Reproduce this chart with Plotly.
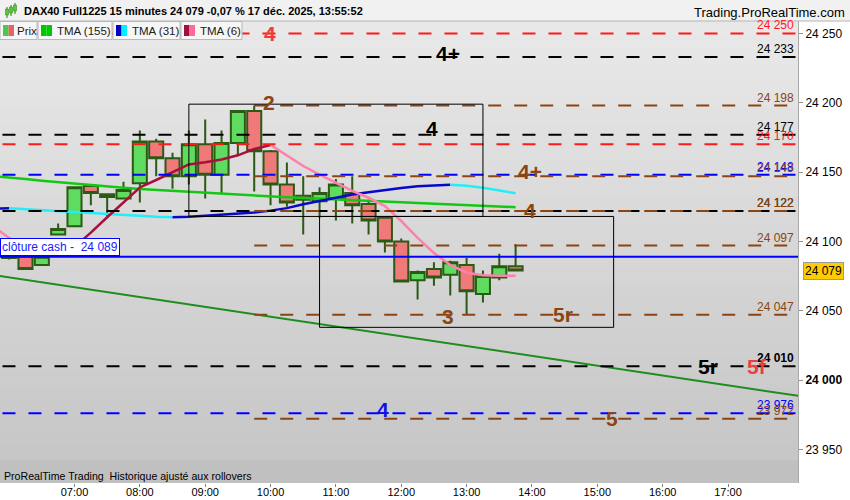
import plotly.graph_objects as go

DAY = "2025-12-17"

# ---------------- data ----------------
candle_times = ["06:00", "06:15", "06:30", "06:45", "07:00", "07:15", "07:30", "07:45",
                "08:00", "08:15", "08:30", "08:45", "09:00", "09:15", "09:30", "09:45",
                "10:00", "10:15", "10:30", "10:45", "11:00", "11:15", "11:30", "11:45",
                "12:00", "12:15", "12:30", "12:45", "13:00", "13:15", "13:30", "13:45"]
opens = [24088, 24089, 24083, 24105, 24111, 24140, 24134, 24131, 24142, 24172, 24160, 24147,
         24170, 24148, 24171, 24194, 24165, 24141, 24133, 24129, 24131, 24135, 24127, 24117,
         24100, 24072, 24080, 24076, 24083, 24062, 24074, 24082]
highs = [24095, 24090, 24089, 24113, 24139, 24140, 24134, 24143, 24180, 24174, 24164, 24180,
         24188, 24180, 24194, 24198, 24166, 24157, 24147, 24139, 24145, 24147, 24130, 24117,
         24102, 24079, 24085, 24086, 24088, 24079, 24091, 24098]
lows = [24087, 24080, 24083, 24105, 24111, 24126, 24118, 24131, 24128, 24147, 24138, 24141,
        24131, 24135, 24162, 24136, 24126, 24125, 24105, 24117, 24115, 24113, 24105, 24092,
        24071, 24058, 24068, 24061, 24047, 24056, 24072, 24079]
closes = [24094, 24080, 24089, 24109, 24139, 24135, 24132, 24137, 24172, 24160, 24147, 24170,
          24148, 24171, 24194, 24165, 24141, 24128, 24130, 24135, 24141, 24126, 24115, 24100,
          24071, 24078, 24074, 24085, 24064, 24075, 24082, 24079]

ma_times = ["05:45"] + candle_times
tma155 = [24147.0, 24146.2, 24145.0, 24143.8, 24142.7, 24141.6, 24140.7, 24139.7, 24138.7,
          24137.8, 24137.1, 24136.4, 24135.6, 24134.9, 24134.3, 24133.6, 24133.0, 24132.4,
          24131.8, 24131.3, 24130.7, 24130.2, 24129.7, 24129.2, 24128.7, 24128.2, 24127.7,
          24127.2, 24126.7, 24126.2, 24125.7, 24125.2, 24124.7]
tma31 = [24123.7, 24123.9, 24123.2, 24122.3, 24121.5, 24120.8, 24120.1, 24119.4, 24118.8,
         24118.3, 24117.8, 24117.5, 24117.7, 24118.5, 24119.2, 24120.0, 24120.8, 24122.2,
         24124.0, 24126.8, 24129.3, 24131.7, 24133.8, 24135.5, 24137.2, 24138.5, 24139.8,
         24140.5, 24140.9, 24140.1, 24138.7, 24136.9, 24134.7]
tma6 = [24111.1, 24102.5, 24095.2, 24091.6, 24092.7, 24096.0, 24106.3, 24117.4, 24128.4,
        24138.9, 24144.3, 24149.8, 24155.5, 24157.1, 24159.1, 24162.1, 24166.7, 24169.6,
        24162.0, 24154.4, 24148.1, 24142.1, 24136.4, 24131.5, 24125.5, 24114.7, 24102.5,
        24091.6, 24083.0, 24077.4, 24075.6, 24075.3, 24075.2]

cash_close = 24089
cash_label = "clôture cash -  24 089"
last_price = 24079
last_label = "24 079"

level_values = [24250, 24233, 24198, 24177, 24170, 24148, 24147, 24122, 24122, 24097,
                24047, 24010, 23976, 23972]
level_texts = ["24 250", "24 233", "24 198", "24 177", "24 170", "24 148", "24 143", "24 122",
               "24 122", "24 097", "24 047", "24 010", "23 976", "23 972"]
level_kinds = ["red", "black", "brown", "black", "red", "blue", "brown", "black", "brown",
               "brown", "brown", "black", "blue", "brown"]
level_bold = [False, False, False, False, False, False, False, False, False, False,
              False, True, False, False]
level_starts = [None, None, "09:45", None, None, None, "09:45", None, "09:45", "09:45",
                "09:45", None, None, "09:45"]

tag_texts = ["4", "4+", "2", "4", "4+", "4", "3", "5r", "5r", "5f", "4", "5"]
tag_times = ["09:59:30", "12:43:00", "09:58:40", "12:28:10", "13:58:10", "13:58:10",
             "12:43:00", "14:28:30", "16:41:40", "17:26:40", "11:43:20", "15:13:30"]
tag_prices = [24250, 24235.9, 24199.9, 24181.8, 24150.1, 24122, 24045.5, 24047, 24010,
              24010, 23978.4, 23972]
tag_kinds = ["red", "black", "brown", "black", "brown", "brown", "brown", "brown", "black",
             "red", "blue", "brown"]

box_t0 = ["08:45", "10:45"]
box_t1 = ["13:15", "15:15"]
box_lo = [24118, 24038]
box_hi = [24199, 24118]

trend_times = ["05:45", "18:15"]
trend_prices = [24075.8, 23987.3]

x_tick_labels = ["07:00", "08:00", "09:00", "10:00", "11:00", "12:00", "13:00", "14:00",
                 "15:00", "16:00", "17:00"]
y_tick_values = [23950, 24000, 24050, 24100, 24150, 24200, 24250]
y_tick_texts = ["23 950", "<b>24 000</b>", "24 050", "24 100", "24 150", "24 200", "24 250"]

title_text = "DAX40 Full1225 15 minutes 24 079 -0,07 % 17 déc. 2025, 13:55:52"
site_text = "Trading.ProRealTime.com"
footer_text = "ProRealTime Trading  Historique ajusté aux rollovers"
legend_items = ["Prix", "TMA (155)", "TMA (31)", "TMA (6)"]

# ---------------- style ----------------
COL = {"red": "#ff1a1a", "black": "#000000", "brown": "#8b4513", "blue": "#0000ff"}
TAGCOL = {"red": "#f03c3c", "black": "#000000", "brown": "#8b4513", "blue": "#1010ee"}
FONT = "Liberation Sans, Arial, sans-serif"
W, H = 850, 500
PL, PR, PT, PB = 0, 798, 21, 483


def T(hm):
    return f"{DAY} {hm}"


def px(x):
    return (x - PL) / (PR - PL)


def py(y):
    return (PB - y) / (PB - PT)


fig = go.Figure()

# candles
fig.add_trace(go.Candlestick(
    x=[T(t) for t in candle_times], open=opens, high=highs, low=lows, close=closes,
    increasing=dict(fillcolor="#5fdb5f", line=dict(color="#2b5a14", width=2)),
    decreasing=dict(fillcolor="#f07a7a", line=dict(color="#2b5a14", width=2)),
    whiskerwidth=0, hoverinfo="skip", showlegend=False))

# trend line
fig.add_trace(go.Scatter(x=[T(t) for t in trend_times], y=trend_prices, mode="lines",
                         line=dict(color="#1e8c1e", width=2), hoverinfo="skip",
                         showlegend=False))

# moving averages
fig.add_trace(go.Scatter(x=[T(t) for t in ma_times], y=tma155, mode="lines",
                         line=dict(color="#12c812", width=2.5), hoverinfo="skip",
                         showlegend=False))


def add_colored(times, vals, up, down, width=2.5):
    i = 0
    n = len(vals)
    while i < n - 1:
        rising = vals[i + 1] >= vals[i]
        j = i + 1
        while j < n - 1 and (vals[j + 1] >= vals[j]) == rising:
            j += 1
        fig.add_trace(go.Scatter(x=[T(t) for t in times[i:j + 1]], y=vals[i:j + 1],
                                 mode="lines", line=dict(color=up if rising else down,
                                                         width=width),
                                 hoverinfo="skip", showlegend=False))
        i = j


add_colored(ma_times, tma31, "#0808c8", "#22eef8")
add_colored(ma_times, tma6, "#a8103c", "#ff80aa")

shapes = []
annotations = []

# gradient background
NB = 30
top_c, bot_c = 0xe9, 0xc6
for k in range(NB):
    y0 = PT + (460 - PT) * k / NB
    y1 = PT + (460 - PT) * (k + 1) / NB
    c = round(top_c + (bot_c - top_c) * (k + 0.5) / NB)
    shapes.append(dict(type="rect", xref="paper", yref="paper", x0=0, x1=1,
                       y0=py(y1), y1=py(y0) + 0.001, fillcolor=f"rgb({c},{c},{c})",
                       line=dict(width=0), layer="below"))
# footer band
shapes.append(dict(type="rect", xref="paper", yref="paper", x0=0, x1=1, y0=0, y1=py(460),
                   fillcolor="#c0c0c0", line=dict(width=0), layer="below"))
annotations.append(dict(xref="paper", yref="paper", x=px(2), y=py(476), xanchor="left",
                        yanchor="middle", text=footer_text, showarrow=False,
                        font=dict(family=FONT, size=10.6, color="#000000")))

# levels
for v, txt, kind, bold, st in zip(level_values, level_texts, level_kinds, level_bold,
                                  level_starts):
    x0 = T(st) if st else T("05:30")
    shapes.append(dict(type="line", xref="x", yref="y", x0=x0, x1=T("18:30"), y0=v, y1=v,
                       line=dict(color=COL[kind], width=2, dash="13px,13px"),
                       layer="above"))
    annotations.append(dict(xref="paper", yref="y", x=px(796), y=v, xanchor="right",
                            yanchor="bottom", text=f"<b>{txt}</b>" if bold else txt,
                            showarrow=False, yshift=-1,
                            font=dict(family=FONT, size=12, color=COL[kind])))

# cash close
shapes.append(dict(type="line", xref="x", yref="y", x0=T("05:30"), x1=T("18:30"),
                   y0=cash_close, y1=cash_close, line=dict(color="#0000ff", width=2),
                   layer="above"))
annotations.append(dict(xref="paper", yref="y", x=0, y=cash_close, xanchor="left",
                        yanchor="bottom", text=cash_label, showarrow=False, yshift=1,
                        bgcolor="#ffffff", bordercolor="#0000ff", borderwidth=1, borderpad=1,
                        font=dict(family=FONT, size=12, color="#2020ff")))

# boxes
for a, b, lo, hi in zip(box_t0, box_t1, box_lo, box_hi):
    shapes.append(dict(type="rect", xref="x", yref="y", x0=T(a), x1=T(b), y0=lo, y1=hi,
                       line=dict(color="#000000", width=1), fillcolor="rgba(0,0,0,0)",
                       layer="above"))

# tags
for txt, tm, pr, kind in zip(tag_texts, tag_times, tag_prices, tag_kinds):
    annotations.append(dict(xref="x", yref="y", x=T(tm), y=pr, xanchor="center",
                            yanchor="middle", text=f"<b>{txt}</b>", showarrow=False,
                            font=dict(family=FONT, size=21, color=TAGCOL[kind])))

# last price label
annotations.append(dict(xref="paper", yref="y", x=1, y=last_price, xanchor="left",
                        yanchor="middle", xshift=5, text=last_label, showarrow=False,
                        bgcolor="#ffcc00", bordercolor="#9a9a9a", borderwidth=1, borderpad=1,
                        font=dict(family=FONT, size=12, color="#000000")))

# header bar
XR = W / (PR - PL)
shapes.append(dict(type="rect", xref="paper", yref="paper", x0=0, x1=XR, y0=py(21),
                   y1=py(0), fillcolor="#f1f1f1", line=dict(width=0), layer="above"))
shapes.append(dict(type="line", xref="paper", yref="paper", x0=0, x1=XR, y0=py(21),
                   y1=py(21), line=dict(color="#b4b4b4", width=1), layer="above"))
# title icon (small candles)
for cx, a, b in [(7, 9, 15), (11, 7, 13), (15, 5, 11)]:
    shapes.append(dict(type="line", xref="paper", yref="paper", x0=px(cx), x1=px(cx),
                       y0=py(b + 3), y1=py(a - 2), line=dict(color="#2b7a14", width=1),
                       layer="above"))
    shapes.append(dict(type="rect", xref="paper", yref="paper", x0=px(cx - 1.5),
                       x1=px(cx + 1.5), y0=py(b), y1=py(a), fillcolor="#55cc33",
                       line=dict(color="#2b7a14", width=0.5), layer="above"))
annotations.append(dict(xref="paper", yref="paper", x=px(22), y=py(11), xanchor="left",
                        yanchor="middle", text=f"<b>{title_text}</b>", showarrow=False,
                        font=dict(family=FONT, size=11, color="#000000")))
annotations.append(dict(xref="paper", yref="paper", x=px(847), y=py(12), xanchor="right",
                        yanchor="middle", text=site_text, showarrow=False,
                        font=dict(family=FONT, size=13, color="#000000")))

# legend buttons
btn_x = [(0, 37), (38, 112), (113, 180), (181, 242)]
icon_cols = [("#4cc84c", "#e26464"), ("#00c800", "#00c800"), ("#0000c8", "#00f0ff"),
             ("#a0103c", "#ff6a96")]
text_x = [15, 55, 130, 198]
for (b0, b1), (c1, c2), tx, lab in zip(btn_x, icon_cols, text_x, legend_items):
    shapes.append(dict(type="rect", xref="paper", yref="paper", x0=px(b0), x1=px(b1),
                       y0=py(39.5), y1=py(21.5), fillcolor="#f6f6f6",
                       line=dict(color="#b8b8b8", width=1), layer="above"))
    shapes.append(dict(type="rect", xref="paper", yref="paper", x0=px(b0 + 3),
                       x1=px(b0 + 8.5), y0=py(36), y1=py(25), fillcolor=c1,
                       line=dict(width=0), layer="above"))
    shapes.append(dict(type="rect", xref="paper", yref="paper", x0=px(b0 + 8.5),
                       x1=px(b0 + 14), y0=py(36), y1=py(25), fillcolor=c2,
                       line=dict(width=0), layer="above"))
    annotations.append(dict(xref="paper", yref="paper", x=px(tx), y=py(30.5),
                            xanchor="left", yanchor="middle", text=lab, showarrow=False,
                            font=dict(family=FONT, size=11.5, color="#202020")))

fig.update_layout(
    width=W, height=H,
    margin=dict(l=PL, r=W - PR, t=PT, b=H - PB, pad=0),
    paper_bgcolor="#ffffff", plot_bgcolor="#d8d8d8",
    showlegend=False, boxgap=0.14, boxgroupgap=0,
    shapes=shapes, annotations=annotations,
    xaxis=dict(type="date", range=[T("05:51:36"), T("18:04:16")],
               rangeslider=dict(visible=False), showgrid=False, zeroline=False,
               tickvals=[T(t) for t in x_tick_labels], ticktext=x_tick_labels,
               ticks="outside", ticklen=3, tickcolor="#808080", ticklabelstandoff=-4,
               tickfont=dict(family=FONT, size=11, color="#000000"),
               showline=False, fixedrange=True, automargin=False),
    yaxis=dict(side="right", range=[23925.7, 24259.0], showgrid=False, zeroline=False,
               tickvals=y_tick_values, ticktext=y_tick_texts, ticks="outside", ticklen=4,
               tickcolor="#909090", showline=True, linecolor="#a8a8a8", linewidth=1,
               tickfont=dict(family=FONT, size=12, color="#000000"), fixedrange=True,
               automargin=False),
)

fig.write_html("out.html", config={"displayModeBar": False},
               post_script="document.body.style.margin='0px';"
                           "document.body.style.overflow='hidden';")
